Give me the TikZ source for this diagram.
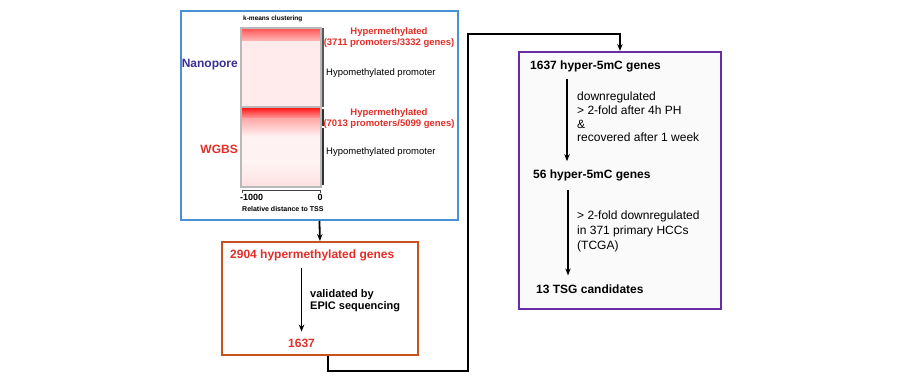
\documentclass[tikz,border=0pt]{standalone}
\usepackage{fontspec}
\setmainfont{Liberation Sans}
\usetikzlibrary{arrows.meta}
\definecolor{bluec}{RGB}{74,144,214}
\definecolor{orangec}{RGB}{200,82,30}
\definecolor{purplec}{RGB}{104,44,164}
\definecolor{redt}{RGB}{226,46,40}
\definecolor{navyt}{RGB}{58,46,152}
\begin{document}
\begin{tikzpicture}[x=1pt,y=-1pt,
  txt/.style={inner sep=0pt, anchor=west, font=\fontsize{12}{14}\selectfont\bfseries},
  small/.style={inner sep=0pt, font=\fontsize{9.5}{11}\selectfont},
  arr/.style={-{Stealth[length=7pt,width=5.5pt]}, line width=1.8pt, black},
  frame/.style={draw, inner sep=0pt, anchor=north west, line width=1.9pt}]
\useasboundingbox (0,0) rectangle (900,383);
% boxes
\node[frame, draw=bluec, minimum width=277pt, minimum height=209pt] (blue) at (180,10) {};
\node[frame, draw=orangec, minimum width=196pt, minimum height=113pt] (orange) at (221,241) {};
\node[frame, draw=purplec, fill=black!2, minimum width=202pt, minimum height=257pt] (purple) at (518,51) {};
% heatmap panels
\fill[red!8] (241,28) rectangle (321,107);
\shade[top color=red!65, bottom color=red!30] (241,29) rectangle (321,40);
\fill[red!5] (241,107) rectangle (321,187);
\shade[top color=red!90, bottom color=red!40] (241,108) rectangle (321,118);
\shade[top color=red!35, bottom color=red!6] (241,118) rectangle (321,136);
\shade[top color=red!4, bottom color=red!12] (241,160) rectangle (321,187);
\draw[gray!55, line width=1.2pt] (241,28) rectangle (321,107);
\draw[gray!55, line width=1.2pt] (241,107) rectangle (321,187);
\draw[gray!70!black, line width=2.2pt] (323,28) -- (323,107);
\draw[black!80, line width=1.1pt] (323,109) -- (323,126);
\draw[black!80, line width=1.1pt] (323,128) -- (323,185);
\draw[black!75, line width=1pt] (242,193) -- (242,190) -- (320,190) -- (320,193);
% heatmap texts
\node[inner sep=0pt, anchor=west, font=\fontsize{6.5}{7}\selectfont\bfseries] (km) at (243,19) {k-means clustering};
\node[inner sep=0pt, anchor=east, font=\fontsize{12}{14}\selectfont\bfseries, text=navyt] (nano) at (238,65) {Nanopore};
\node[inner sep=0pt, anchor=east, font=\fontsize{12}{14}\selectfont\bfseries, text=redt] (wgbs) at (238,149) {WGBS};
\node[small, text=redt, font=\fontsize{9.5}{11}\selectfont\bfseries, align=center] (h1) at (389,37.5) {Hypermethylated\\(3711 promoters/3332 genes)};
\node[small, anchor=west] (l1) at (326,73) {Hypomethylated promoter};
\node[small, text=redt, font=\fontsize{9.5}{11}\selectfont\bfseries, align=center] (h2) at (389,118.5) {Hypermethylated\\(7013 promoters/5099 genes)};
\node[small, anchor=west] (l2) at (326,152) {Hypomethylated promoter};
\node[inner sep=0pt, anchor=west, font=\fontsize{9}{10}\selectfont\bfseries] (m1) at (240,197.5) {-1000};
\node[inner sep=0pt, font=\fontsize{9}{10}\selectfont\bfseries] (z0) at (320,197.5) {0};
\node[inner sep=0pt, anchor=west, font=\fontsize{7}{8}\selectfont\bfseries] (rd) at (242,209) {Relative distance to TSS};
% orange box contents
\node[txt, text=redt] (t1) at (230,255) {2904 hypermethylated genes};
\node[txt, text=redt] (t2) at (288,343) {1637};
\node[inner sep=0pt, anchor=north west, align=left, font=\fontsize{11}{12}\selectfont\bfseries] (v1) at (310,289.5) {validated by\\EPIC sequencing};
\draw[arr] ([yshift=-7pt]t1.south -| t2.north) -- ([yshift=7pt]t2.north);
% purple box contents
\node[txt] (p1) at (530,66) {1637 hyper-5mC genes};
\node[txt] (p2) at (533,175) {56 hyper-5mC genes};
\node[txt] (p3) at (536,289) {13 TSG candidates};
\node[inner sep=0pt, anchor=north west, align=left, font=\fontsize{12}{13.7}\selectfont] (d1) at (577,92) {downregulated\\> 2-fold after 4h PH\\\&\\recovered after 1 week};
\node[inner sep=0pt, anchor=north west, align=left, font=\fontsize{12}{15}\selectfont] (d2) at (577,211) {> 2-fold downregulated\\in 371 primary HCCs\\(TCGA)};
\draw[arr] ([xshift=37pt,yshift=-7pt]p1.south west) -- ([xshift=34pt,yshift=8pt]p2.north west);
\draw[arr] ([xshift=35pt,yshift=-9pt]p2.south west) -- ([xshift=32pt,yshift=9pt]p3.north west);
% connectors
\coordinate (c1) at (468,371);
\coordinate (c2) at (468,34);
\draw[arr] (blue.south) -- (orange.north);
\draw[arr] ([xshift=8pt]orange.south) |- (c1) -- (c2) -| (purple.north);
\end{tikzpicture}
\end{document}
